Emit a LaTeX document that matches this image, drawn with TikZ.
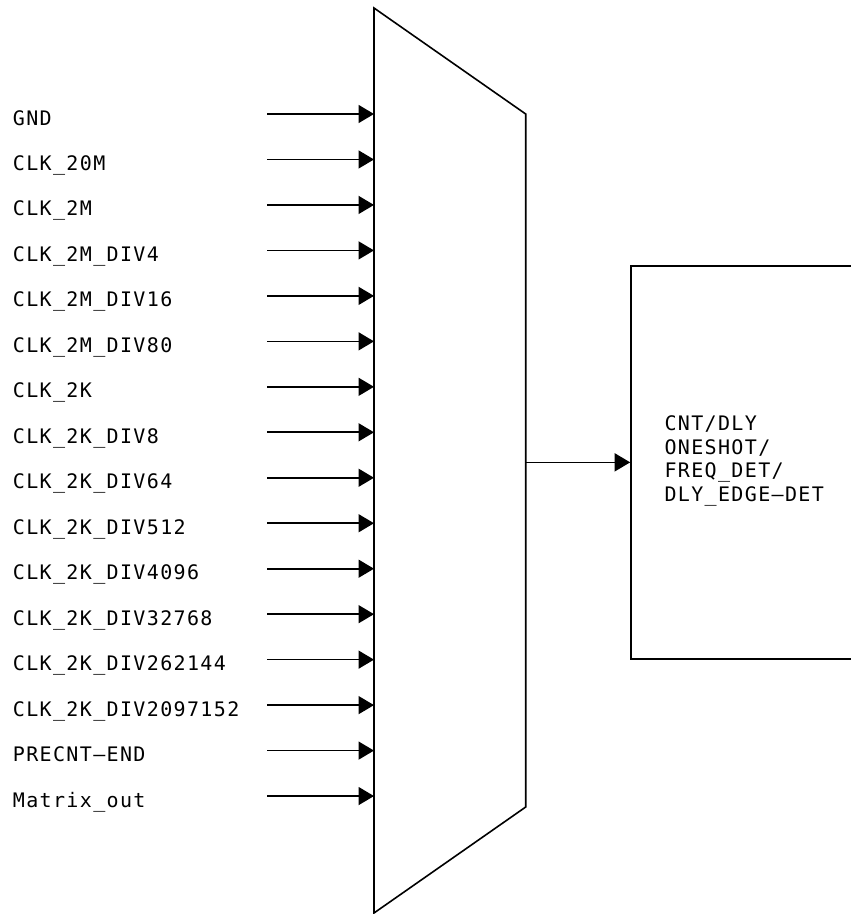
\documentclass[tikz,border=0pt]{standalone}
\usepackage{fontspec}
\newfontfamily\lblfont[LetterSpace=6.8]{DejaVu Sans Mono}
\usetikzlibrary{arrows.meta}
\tikzset{
  wire/.style={line width=1.6pt, -{Triangle[length=15.5pt,width=18pt]}},
  outline/.style={line width=1.6pt},
  lbl/.style={anchor=base west, inner sep=0pt, font=\lblfont\fontsize{20}{23.5}\selectfont},
}
\begin{document}
\begin{tikzpicture}[x=1pt,y=-1pt]
\path[use as bounding box] (0,0) rectangle (851,914);
\clip (0,0) rectangle (851,914);
% multiplexer
\coordinate (mtl) at (374,8);
\coordinate (mtr) at (525.7,114);
\coordinate (mbr) at (525.7,807);
\coordinate (mbl) at (374,913);
\draw[outline, line join=miter] (mtl) -- (mtr) -- (mbr) -- (mbl) -- cycle;
% inputs
\foreach \t [count=\i from 0] in {GND,CLK\_20M,CLK\_2M,CLK\_2M\_DIV4,CLK\_2M\_DIV16,CLK\_2M\_DIV80,CLK\_2K,CLK\_2K\_DIV8,CLK\_2K\_DIV64,CLK\_2K\_DIV512,CLK\_2K\_DIV4096,CLK\_2K\_DIV32768,CLK\_2K\_DIV262144,CLK\_2K\_DIV2097152,PRECNT{\textendash}END,Matrix\_out}{
  \pgfmathsetmacro{\ya}{114+45.47*\i}
  \pgfmathsetmacro{\yb}{125+45.47*\i}
  \node[lbl] (l\i) at (12.7,\yb) {\t};
  \coordinate (s\i) at (267,\ya);
  \coordinate (e\i) at (374,\ya);
  \draw[wire] (s\i) -- (e\i);
}
% output block
\node[draw, outline, minimum width=239pt, minimum height=393.3pt, inner sep=0pt] (blk) at (750.5,462.35) {};
\coordinate (mout) at (525.7,462.35);
\draw[wire] (mout) -- (blk.west);
\node[lbl, align=left] (blktxt) at (664.3,501.2) {CNT/DLY\\ONESHOT/\\FREQ\_DET/\\DLY\_EDGE{\textendash}DET};
\end{tikzpicture}
\end{document}
